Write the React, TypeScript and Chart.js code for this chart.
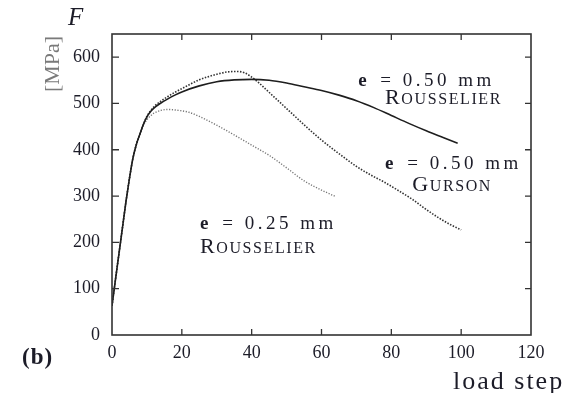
import React, { useEffect, useRef } from "react";
import { Chart, registerables } from "chart.js";
Chart.register(...registerables);

// Rousselier, e = 0.50 mm (solid)
const stepsR50 = [0, 1, 2, 3, 4, 5, 6, 7, 8, 9, 10, 11, 12, 14, 16, 18, 20, 25, 30, 35, 40, 45, 50, 55, 60, 65, 70, 75, 80, 85, 90, 95, 99];
const forceR50 = [63, 120, 176, 232, 288, 338, 382, 412, 434, 455, 471, 482, 490, 501, 510, 518, 525, 538, 547, 551, 552, 550, 544, 536, 528, 518, 506, 491, 474, 457, 441, 426, 414];

// Gurson, e = 0.50 mm (dark dotted)
const stepsGurson = [0, 1, 2, 3, 4, 5, 6, 7, 8, 9, 10, 11, 12, 14, 16, 18, 20, 25, 30, 33, 36, 38, 40, 42, 44, 46, 48, 50, 53, 56, 60, 63, 66, 70, 74, 78, 82, 86, 90, 94, 97, 100];
const forceGurson = [63, 120, 176, 232, 288, 338, 382, 412, 434, 455, 472, 484, 493, 505, 515, 524, 532, 551, 563, 568, 569, 566, 557, 545, 531, 517, 503, 489, 468, 447, 421, 403, 386, 364, 346, 330, 312, 293, 271, 251, 238, 227];

// Rousselier, e = 0.25 mm (light dotted)
const stepsR25 = [0, 1, 2, 3, 4, 5, 6, 7, 8, 9, 10, 11, 12, 14, 16, 18, 20, 22, 25, 30, 35, 40, 45, 50, 55, 60, 64];
const forceR25 = [63, 120, 176, 232, 288, 338, 382, 412, 432, 452, 465, 473, 479, 485, 487, 486, 484, 481, 472, 453, 432, 410, 388, 361, 333, 313, 299];

const xTickValues = [0, 20, 40, 60, 80, 100, 120];
const yTickValues = [0, 100, 200, 300, 400, 500, 600];

const annotations = [
  { step: 70.5, force: 537, line1: "0.50", name: "ROUSSELIER", nameStep: 78.2, nameForce: 498 },
  { step: 78.2, force: 358, line1: "0.50", name: "GURSON", nameStep: 86, nameForce: 310 },
  { step: 25.2, force: 229, line1: "0.25", name: "ROUSSELIER", nameStep: 25.2, nameForce: 178 },
];

const SERIF = '"Liberation Serif", "DejaVu Serif", serif';
const INK = "#1c1c28";

function pts(xs: number[], ys: number[]) {
  return xs.map((x, i) => ({ x, y: ys[i] }));
}

function drawSmallCaps(ctx: CanvasRenderingContext2D, text: string, x: number, y: number) {
  ctx.save();
  (ctx as any).letterSpacing = "1.6px";
  ctx.textAlign = "left";
  ctx.textBaseline = "alphabetic";
  ctx.font = `22px ${SERIF}`;
  ctx.fillText(text[0], x, y);
  const w = ctx.measureText(text[0]).width;
  ctx.font = `16px ${SERIF}`;
  ctx.fillText(text.slice(1), x + w, y);
  ctx.restore();
}

function drawELine(ctx: CanvasRenderingContext2D, val: string, x: number, y: number) {
  ctx.save();
  (ctx as any).letterSpacing = "3.5px";
  ctx.textAlign = "left";
  ctx.textBaseline = "alphabetic";
  ctx.font = `bold 19px ${SERIF}`;
  ctx.fillText("e", x, y);
  const w = ctx.measureText("e ").width;
  ctx.font = `19px ${SERIF}`;
  ctx.fillText(`= ${val} mm`, x + w + 2, y);
  ctx.restore();
}

const framePlugin = {
  id: "frame",
  afterDraw(chart: any) {
    const ctx: CanvasRenderingContext2D = chart.ctx;
    const { left, right, top, bottom } = chart.chartArea;
    const xs = chart.scales.x;
    const ys = chart.scales.y;
    ctx.save();
    ctx.strokeStyle = "#333";
    ctx.lineWidth = 1.6;
    ctx.strokeRect(left, top, right - left, bottom - top);
    ctx.lineWidth = 1.3;
    ctx.beginPath();
    const tl = 6;
    xTickValues.forEach((v) => {
      if (v === 0 || v === 120) return;
      const px = xs.getPixelForValue(v);
      ctx.moveTo(px, bottom);
      ctx.lineTo(px, bottom - tl);
      ctx.moveTo(px, top);
      ctx.lineTo(px, top + tl);
    });
    yTickValues.forEach((v) => {
      if (v === 0) return;
      const py = ys.getPixelForValue(v);
      ctx.moveTo(left, py);
      ctx.lineTo(left + tl + 1, py);
      ctx.moveTo(right, py);
      ctx.lineTo(right - tl, py);
    });
    ctx.stroke();

    ctx.fillStyle = INK;
    annotations.forEach((a) => {
      drawELine(ctx, a.line1, xs.getPixelForValue(a.step), ys.getPixelForValue(a.force));
      drawSmallCaps(ctx, a.name, xs.getPixelForValue(a.nameStep), ys.getPixelForValue(a.nameForce));
    });

    ctx.textBaseline = "alphabetic";
    ctx.textAlign = "left";
    ctx.font = `italic 25px ${SERIF}`;
    ctx.fillText("F", 68, 25);

    ctx.font = `bold 23px ${SERIF}`;
    (ctx as any).letterSpacing = "1px";
    ctx.fillText("(b)", 22, 364);

    ctx.font = `26px ${SERIF}`;
    (ctx as any).letterSpacing = "2px";
    ctx.fillText("load step", 453, 389);
    (ctx as any).letterSpacing = "0px";

    ctx.save();
    ctx.translate(59, 64);
    ctx.rotate(-Math.PI / 2);
    ctx.textAlign = "center";
    ctx.fillStyle = "#7a7a7a";
    ctx.font = `22px ${SERIF}`;
    ctx.fillText("[MPa]", 0, 0);
    ctx.restore();

    ctx.restore();
  },
};

export default function App() {
  const ref = useRef<HTMLCanvasElement | null>(null);
  useEffect(() => {
    document.body.style.margin = "0";
    const chart = new Chart(ref.current as HTMLCanvasElement, {
      type: "line",
      data: {
        datasets: [
          {
            label: "e = 0.50 mm Rousselier",
            data: pts(stepsR50, forceR50),
            borderColor: "#1e1e1e",
            borderWidth: 1.6,
            pointRadius: 0,
            cubicInterpolationMode: "monotone",
          },
          {
            label: "e = 0.50 mm Gurson",
            data: pts(stepsGurson, forceGurson),
            borderColor: "#333",
            borderWidth: 1.6,
            borderDash: [1.5, 1.5],
            pointRadius: 0,
            cubicInterpolationMode: "monotone",
          },
          {
            label: "e = 0.25 mm Rousselier",
            data: pts(stepsR25, forceR25),
            borderColor: "#777",
            borderWidth: 1.4,
            borderDash: [1.2, 1.6],
            pointRadius: 0,
            cubicInterpolationMode: "monotone",
          },
        ],
      },
      options: {
        animation: false,
        responsive: false,
        layout: { padding: { left: 0, top: 34, right: 47, bottom: 0 } },
        plugins: { legend: { display: false }, tooltip: { enabled: false } },
        scales: {
          x: {
            type: "linear",
            min: 0,
            max: 120,
            grid: { display: false, drawTicks: false },
            border: { display: false },
            afterBuildTicks: (s: any) => {
              s.ticks = xTickValues.map((v) => ({ value: v }));
            },
            afterFit: (s: any) => {
              s.height = 58;
            },
            ticks: { color: INK, font: { family: SERIF, size: 18 }, padding: 7, maxRotation: 0 },
          },
          y: {
            type: "linear",
            min: 0,
            max: 650,
            grid: { display: false, drawTicks: false },
            border: { display: false },
            afterBuildTicks: (s: any) => {
              s.ticks = yTickValues.map((v) => ({ value: v }));
            },
            afterFit: (s: any) => {
              s.width = 112;
            },
            ticks: { color: INK, font: { family: SERIF, size: 18 }, padding: 12 },
          },
        },
      },
      plugins: [framePlugin],
    });
    return () => chart.destroy();
  }, []);
  return (
    <div style={{ position: "absolute", left: 0, top: 0, width: 578, height: 393, background: "#fff" }}>
      <canvas ref={ref} width={578} height={393} style={{ display: "block" }} />
    </div>
  );
}
